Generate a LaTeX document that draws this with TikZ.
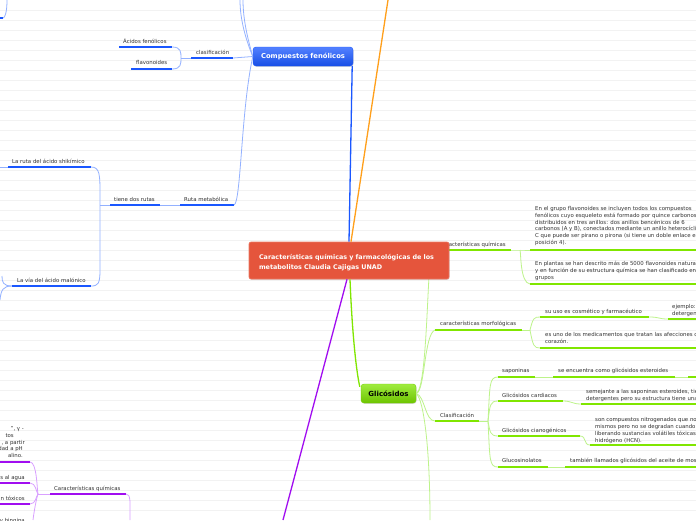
\documentclass[tikz,border=0pt]{standalone}
\usepackage{fontspec}
\setmainfont{DejaVu Sans}
\usetikzlibrary{shadows}
\definecolor{bthick}{HTML}{1A57FF}
\definecolor{bthin}{HTML}{93B1FF}
\definecolor{gthick}{HTML}{80E600}
\definecolor{gthin}{HTML}{BDF38A}
\definecolor{pthick}{HTML}{A10DF0}
\definecolor{pthin}{HTML}{D9A0FF}
\definecolor{orng}{HTML}{FF9F1A}
\definecolor{txt}{HTML}{333333}
\definecolor{redc}{HTML}{E5553C}
\definecolor{gridc}{HTML}{F2F2F2}
\tikzset{
  lbl/.style={font=\fontsize{5.4}{6.8}\selectfont, text=txt, inner sep=0pt, anchor=base west, align=left},
  lble/.style={lbl, anchor=base east, align=right},
  bul/.style={draw=bthick, line width=2pt},
  gul/.style={draw=gthick, line width=2pt},
  pul/.style={draw=pthick, line width=2pt},
  bcon/.style={draw=bthin, line width=0.8pt},
  gcon/.style={draw=gthin, line width=0.8pt},
  pcon/.style={draw=pthin, line width=0.8pt},
  rootbox/.style={fill=redc, draw=redc!80!white, line width=0.6pt, rounded corners=2pt,
    minimum width=200pt, minimum height=37pt, text width=180pt, align=left, inner sep=0pt,
    text=white, font=\bfseries\fontsize{6.4}{10.8}\selectfont,
    drop shadow={shadow xshift=0.6pt, shadow yshift=-0.8pt, opacity=0.25}},
  bluebox/.style={top color=bthick!75!white, bottom color=bthick!90!black, draw=bthick, line width=0.4pt,
    rounded corners=3pt, minimum width=100pt, minimum height=19pt, inner sep=0pt,
    text=white, font=\bfseries\fontsize{6.8}{8}\selectfont,
    drop shadow={shadow xshift=0.6pt, shadow yshift=-0.8pt, opacity=0.3}},
  greenbox/.style={top color=gthick!75!white, bottom color=gthick!85!black, draw=gthick!90!black, line width=0.4pt,
    rounded corners=3pt, minimum width=55pt, minimum height=19pt, inner sep=0pt,
    text=black, font=\bfseries\fontsize{7}{8}\selectfont,
    drop shadow={shadow xshift=0.6pt, shadow yshift=-0.8pt, opacity=0.3}},
}
\begin{document}
\begin{tikzpicture}[x=1pt,y=-1pt]
\useasboundingbox (0,0) rectangle (696,520);
\fill[white] (0,0) rectangle (696,520);
\foreach \k in {1,...,51} \draw[gridc, line width=0.6pt] (0,10*\k+0.5) -- (696,10*\k+0.5);

% ---------- main node coordinates ----------
\coordinate (otop) at (388,0);
\coordinate (pbot) at (283,520);

% ---------- BLUE branch ----------
\coordinate (tl0) at (7,0); \coordinate (tl1) at (3,18); \coordinate (tl2) at (0,18);
\draw[bcon] (tl0) .. controls (7,12) and (5,18) .. (tl1);
\draw[bul] (tl2) -- (tl1);

\coordinate (clasL) at (191,58); \coordinate (clasR) at (233,58); \coordinate (clasJ) at (181,58);
\coordinate (acL) at (119,47); \coordinate (acR) at (172,47);
\coordinate (flL) at (131,69); \coordinate (flR) at (172,69);
\draw[bcon] (acR) .. controls (181,47) and (181,52) .. (clasJ);
\draw[bcon] (flR) .. controls (181,69) and (181,64) .. (clasJ);
\draw[bcon] (clasJ) -- (clasL);
\draw[bul] (clasL) -- (clasR);
\draw[bul] (acL) -- (acR);
\draw[bul] (flL) -- (flR);
\node[lbl] (clas) at (196,54) {clasificación};
\node[lbl] (acid) at (123,43) {Ácidos fenólicos};
\node[lbl] (flav) at (136,64.5) {flavonoides};

\coordinate (rutaL) at (180,205); \coordinate (rutaR) at (234,205);
\coordinate (tieL) at (110,205); \coordinate (tieR) at (160,205); \coordinate (tieJ) at (100,205);
\coordinate (shL) at (8,167); \coordinate (shR) at (91,167); \coordinate (sh0) at (0,167);
\coordinate (maL) at (12,286); \coordinate (maR) at (91,286);
\coordinate (ma0) at (2,276); \coordinate (ma1) at (0,300);
\draw[bcon] (tieR) -- (rutaL);
\draw[bcon] (shR) .. controls (100,167) and (100,175) .. (100,195) -- (100,270) .. controls (100,284) and (98,286) .. (maR);
\draw[bcon] (tieJ) -- (tieL);
\draw[bcon] (sh0) -- (shL);
\draw[bcon] (maL) .. controls (3,286) and (2,282) .. (ma0);
\draw[bcon] (maL) .. controls (3,286) and (1,290) .. (ma1);
\draw[bul] (rutaL) -- (rutaR);
\draw[bul] (tieL) -- (tieR);
\draw[bul] (shL) -- (shR);
\draw[bul] (maL) -- (maR);
\node[lbl] (ruta) at (184,201) {Ruta metabólica};
\node[lbl] (tiene) at (114,201) {tiene dos rutas};
\node[lbl] (shik) at (12,163) {La ruta del ácido shikímico};
\node[lbl] (malo) at (17,282) {La vía del ácido malónico};

% ---------- PURPLE branch ----------
\coordinate (cqL) at (50,494); \coordinate (cqR) at (126,494); \coordinate (cqJ) at (38,494);
\coordinate (cqD) at (130,520);
\coordinate (p1L) at (0,462); \coordinate (p1R) at (30,462);
\coordinate (p2L) at (0,483); \coordinate (p2R) at (30,483);
\coordinate (p3L) at (0,504); \coordinate (p3R) at (30,504);
\coordinate (p4) at (33,520);
\draw[pcon] (cqR) .. controls (131,494) and (130,502) .. (cqD);
\draw[pcon] (cqL) -- (cqJ);
\draw[pcon] (p1R) .. controls (37,462) and (37,490) .. (cqJ);
\draw[pcon] (p2R) .. controls (36,483) and (36,492) .. (cqJ);
\draw[pcon] (p3R) .. controls (36,504) and (36,496) .. (cqJ);
\draw[pcon] (cqJ) .. controls (36,500) and (34,512) .. (p4);
\draw[pul] (cqL) -- (cqR);
\draw[pul] (p1L) -- (p1R);
\draw[pul] (p2L) -- (p2R);
\draw[pul] (p3L) -- (p3R);
\node[lbl] (cq) at (54,490) {Características químicas};
\node[lble] (pa) at (24,430.5) {", γ -};
\node[lble] (pb) at (14,437.5) {tos};
\node[lble] (pc) at (25,444) {, a partir};
\node[lble] (pd) at (23,450.5) {dad a pH};
\node[lble] (pe) at (23,457) {alino.};
\node[lble] (pf) at (25,479) {s al agua};
\node[lble] (pg) at (25,500) {n tóxicos};
\node[lble] (ph) at (25,522.5) {y bingina};

% ---------- GREEN branch ----------
\coordinate (gqL) at (432,250); \coordinate (gqR) at (511,250); \coordinate (gqJ) at (520,250);
\coordinate (b1L) at (530,250); \coordinate (b1R) at (700,250);
\coordinate (b2L) at (530,284); \coordinate (b2R) at (700,284);
\draw[gcon] (gqR) -- (gqJ) -- (b1L);
\draw[gcon] (gqJ) .. controls (521,252) and (520,283) .. (b2L);
\draw[gul] (gqL) -- (gqR);
\draw[gul] (b1L) -- (b1R);
\draw[gul] (b2L) -- (b2R);
\node[lble] (gq) at (506,246) {Características químicas};
\node[lbl] (blk1) at (535,244.5) {En el grupo flavonoides se incluyen todos los compuestos\\fenólicos cuyo esqueleto está formado por quince carbonos\\distribuidos en tres anillos: dos anillos bencénicos de 6\\carbonos (A y B), conectados mediante un anillo heterocíclico\\C que puede ser pirano o pirona (si tiene un doble enlace en\\posición 4).};
\node[lbl] (blk2) at (535,279) {En plantas se han descrito más de 5000 flavonoides naturales\\y en función de su estructura química se han clasificado en\\grupos};

\coordinate (moL) at (435,330); \coordinate (moR) at (522,330); \coordinate (moJ) at (530,330);
\coordinate (usL) at (540,317); \coordinate (usR) at (649,317);
\coordinate (ejL) at (668,319); \coordinate (ejR) at (700,319);
\coordinate (afL) at (540,348); \coordinate (afR) at (700,348);
\draw[gcon] (moR) -- (moJ);
\draw[gcon] (moJ) .. controls (533,318) and (534,317) .. (usL);
\draw[gcon] (moJ) .. controls (533,346) and (534,348) .. (afL);
\draw[gcon] (usR) .. controls (660,317) and (658,319) .. (ejL);
\draw[gul] (moL) -- (moR);
\draw[gul] (usL) -- (usR);
\draw[gul] (ejL) -- (ejR);
\draw[gul] (afL) -- (afR);
\node[lbl] (morf) at (440,325.5) {características morfológicas};
\node[lbl] (uso) at (545,313) {su uso es cosmético y farmacéutico};
\node[lbl] (ejem) at (672,315.5) {ejemplo:\\detergentes};
\node[lbl] (afec) at (545,343) {es uno de los medicamentos que tratan las afecciones del\\corazón.};

\coordinate (clL) at (435,421); \coordinate (clR) at (479,421); \coordinate (clJ) at (488,421);
\coordinate (saL) at (498,377); \coordinate (saR) at (535,377);
\coordinate (seL) at (553,377); \coordinate (seR) at (675,377);
\coordinate (nxL) at (688,377); \coordinate (nxR) at (700,377);
\coordinate (caL) at (498,401); \coordinate (caR) at (563,401);
\coordinate (smL) at (581,404); \coordinate (smR) at (700,404);
\coordinate (ciL) at (498,436); \coordinate (ciR) at (580,436);
\coordinate (soL) at (590,445); \coordinate (soR) at (700,445);
\coordinate (guL) at (498,467); \coordinate (guR) at (548,467);
\coordinate (taL) at (565,467); \coordinate (taR) at (700,467);
\draw[gcon] (clR) -- (clJ);
\draw[gcon] (clJ) .. controls (490,385) and (489,377) .. (saL);
\draw[gcon] (clJ) .. controls (490,405) and (490,401) .. (caL);
\draw[gcon] (clJ) .. controls (490,432) and (490,436) .. (ciL);
\draw[gcon] (clJ) .. controls (490,460) and (489,467) .. (guL);
\draw[gcon] (saR) -- (seL);
\draw[gcon] (seR) -- (nxL);
\draw[gcon] (caR) .. controls (572,401) and (572,404) .. (smL);
\draw[gcon] (ciR) .. controls (587,436) and (583,445) .. (soL);
\draw[gcon] (guR) -- (taL);
\draw[gul] (clL) -- (clR);
\draw[gul] (saL) -- (saR);
\draw[gul] (seL) -- (seR);
\draw[gul] (nxL) -- (nxR);
\draw[gul] (caL) -- (caR);
\draw[gul] (smL) -- (smR);
\draw[gul] (ciL) -- (ciR);
\draw[gul] (soL) -- (soR);
\draw[gul] (guL) -- (guR);
\draw[gul] (taL) -- (taR);
\node[lbl] (clas2) at (440,417) {Clasificación};
\node[lbl] (sapo) at (502,372.5) {saponinas};
\node[lbl] (seen) at (558,372.5) {se encuentra como glicósidos esteroides};
\node[lbl] (card) at (502,397) {Glicósidos cardiacos};
\node[lbl] (seme) at (586,400) {semejante a las saponinas esteroides, tienen propiedades\\detergentes pero su estructura tiene una};
\node[lbl] (cian) at (502,432) {Glicósidos cianogénicos};
\node[lbl] (sonc) at (595,442) {son compuestos nitrogenados que no son tóxicos por sí\\mismos pero no se degradan cuando la planta es aplastada\\liberando sustancias volátiles tóxicas como el cianuro de\\hidrógeno (HCN).};
\node[lbl] (gluc) at (502,462.5) {Glucosinolatos};
\node[lbl] (tamb) at (570,462.5) {también llamados glicósidos del aceite de mostaza};

% ---------- main nodes ----------
\node[bluebox] (comp) at (303,56.5) {Compuestos fenólicos};
\node[greenbox] (glic) at (388.5,393.5) {Glicósidos};
\coordinate (gdown) at (430,520);

\draw[bcon] (comp.west) .. controls (246,40) and (240,20) .. (240,0);
\draw[bcon] (comp.west) .. controls (248,40) and (243,20) .. (243,0);
\draw[bcon] (rutaR) .. controls (241,203) and (241,110) .. (comp.west);
\draw[bcon] (clasR) -- (comp.west);

\draw[gcon] (glic.east) .. controls (428,388) and (427,258) .. (gqL);
\draw[gcon] (glic.east) .. controls (425,392) and (424,334) .. (moL);
\draw[gcon] (glic.east) .. controls (425,396) and (425,421) .. (clL);
\draw[gcon] (glic.east) .. controls (424,400) and (430,450) .. (gdown);

\node[rootbox] (root) at (349,260.5) {\rule{0pt}{9.5pt}Características químicas y farmacológicas de los metabolitos Claudia Cajigas UNAD};

\draw[draw=bthick, line width=1.3pt] ([xshift=0pt]root.north) -- ([xshift=-1pt]comp.south east);
\draw[draw=orng, line width=1.3pt] ([xshift=2pt]root.north) -- (otop);
\draw[draw=pthick, line width=1.3pt] ([xshift=-2pt]root.south) -- (pbot);
\draw[draw=gthick, line width=1.3pt] ([xshift=1pt]root.south) .. controls (352,330) and (356,370) .. ([xshift=-1pt,yshift=-3pt]glic.north west);
\end{tikzpicture}
\end{document}
